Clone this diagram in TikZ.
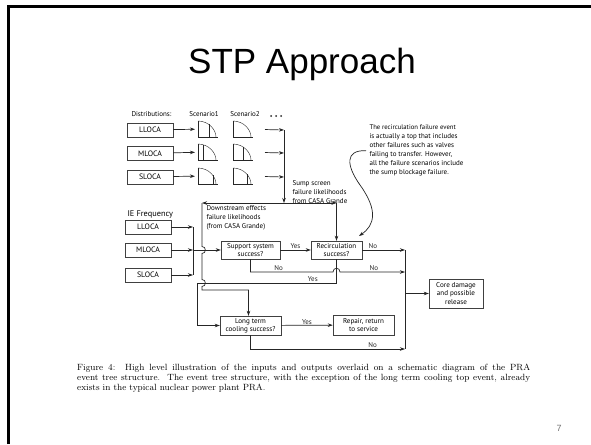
\documentclass[tikz,border=0pt]{standalone}
\usepackage{fontspec}
\newfontfamily\diagfont{PT Sans}
\newfontfamily\headfont{Liberation Sans}
\usetikzlibrary{arrows.meta,positioning,calc}

\begin{document}
\begin{tikzpicture}[x=1pt, y=-1pt, font=\diagfont\fontsize{7}{9}\selectfont,
box/.style={draw=black!75, thin, minimum width=46pt, minimum height=14pt, inner sep=1pt, align=center, font=\diagfont\fontsize{7.8}{8.6}\selectfont},
event/.style={box, minimum width=59pt, minimum height=18pt, font=\diagfont\fontsize{7.1}{8.4}\selectfont},
plot/.style={minimum width=20pt, minimum height=16pt, inner sep=0pt, outer sep=0pt},
arrow/.style={-{Stealth[length=5pt, width=3.5pt]}, black!85, line width=0.7pt},
line/.style={black!85, line width=0.7pt},
lbl/.style={inner sep=0.8pt, font=\diagfont\fontsize{7}{7.5}\selectfont}]

\useasboundingbox (0,0) rectangle (591,444);
\fill[white] (0,0) rectangle (591,444);
% slide frame
\draw[line width=3pt] (8.5,444) -- (8.5,6.5) -- (591,6.5);
\node[font=\headfont\fontsize{35}{40}\selectfont, anchor=base] (title) at (302,74) {STP Approach};

% input distributions
\node[anchor=base west] (distlbl) at (128,116) {Distributions:};
\node[anchor=base] (sc1lbl) at (204,116) {Scenario1};
\node[anchor=base] (sc2lbl) at (245,116) {Scenario2};
\foreach \x in {271,276,281} \fill[black!85] (\x,116) circle (1);
\node[box] (dlloca) at (150,130) {LLOCA};
\node[box, below=9pt of dlloca] (dmloca) {MLOCA};
\node[box, below=9pt of dmloca] (dsloca) {SLOCA};
\foreach \r/\yc in {a/129,b/152,c/176} {
  \node[plot] (sa\r) at (208,\yc) {};
  \node[plot] (sb\r) at (243,\yc) {};
}
\foreach \p in {saa,sab,sac,sba,sbb,sbc} {
  \draw[line] (\p.north west) -- (\p.south west) -- (\p.south east);
  \draw[line, thin] (\p.north west) .. controls +(11,0) and +(0,-7) .. ($(\p.south east)+(-2,0)$);
}
\draw[line, thin] ($(saa.south west)+(11,0)$) -- +(0,-13);
\draw[line, thin] ($(sab.south west)+(5,0)$) -- +(0,-15);
\draw[line, thin] ($(sac.south west)+(15,0)$) -- +(0,-9);
\draw[line, thin] ($(sbb.south west)+(10,0)$) -- +(0,-13);
\draw[line, thin] ($(sbc.south west)+(14,0)$) -- +(0,-10);
\coordinate (sumpa) at (284,130);
\coordinate (sumpb) at (284,153);
\coordinate (sumpc) at (284,177);
\coordinate (sj) at (284,203);
\foreach \b/\r in {dlloca/a, dmloca/b, dsloca/c} {
  \draw[arrow, shorten >=3pt] (\b) -- (sa\r);
  \draw[arrow, shorten <=12pt] (sb\r) -- (sump\r);
}
\draw[line] (sumpa) -- (sumpc);
\draw[arrow] (sumpc) -- (sj);
\node[anchor=north west, align=left] (sumptxt) at (289,176.5) {Sump screen\\failure likelihoods\\from CASA Grande};
\node[anchor=north west, align=left] (note) at (366,121.5) {\fontsize{6.7}{8.6}\selectfont The recirculation failure event\\is actually a top that includes\\other failures such as valves\\failing to transfer. However,\\all the failure scenarios include\\the sump blockage failure.};

% event tree
\node[anchor=base west, font=\diagfont\fontsize{8.3}{9}\selectfont] (ielbl) at (124,216) {IE Frequency};
\node[box] (illoca) at (148,227) {LLOCA};
\node[box] (imloca) at (148,250) {MLOCA};
\node[box] (isloca) at (148,275) {SLOCA};
\node[event] (support) at (250.5,250) {Support system\\success?};
\node[event, minimum width=51pt] (recirc) at (336.5,250) {Recirculation\\success?};
\node[event, minimum width=61pt, minimum height=19pt] (long) at (250.5,325.5) {Long term\\cooling success?};
\node[event, minimum width=61pt, minimum height=20pt] (repair) at (363.5,325) {Repair, return\\to service};
\node[event, minimum width=54pt, minimum height=29pt] (core) at (456,293.5) {Core damage\\and possible\\release};
\node[anchor=north west, align=left] (downtxt) at (203,202.5) {Downstream effects\\failure likelihoods\\(from CASA Grande)};

\coordinate (iej) at (193,250);
\coordinate (dl) at (202,203);
\coordinate (rt) at (recirc.north |- sj);
\coordinate (cna) at (405,250);
\coordinate (cnb) at (405,272);
\coordinate (cnc) at (405,349);
\coordinate (cnm) at (405,293.5);
\coordinate (noteend) at (359,236);

\draw[line] (illoca.east -| iej) -- (isloca.east -| iej);
\foreach \b in {illoca,imloca,isloca} \draw[arrow] (\b) -- (\b -| iej);
\draw[arrow] (iej) -- (support);
\draw[arrow] (sj) -- (dl);
\draw[arrow] (sj) -- (rt);
\draw[arrow] (rt) -- (recirc);
\draw[arrow] (dl) -- (202,246.5) .. controls (206.5,246.5) and (206.5,253.5) .. (202,253.5)
  -- (202,279.5) .. controls (206.5,279.5) and (206.5,286.5) .. (202,286.5)
  -- (202,290) -| ($(long.north)+(-2,0)$);
\draw[arrow] (support) -- node[lbl, above] {Yes} (recirc);
\draw[arrow] (recirc) -- node[lbl, above, pos=0.25] {No} (cna);
\draw[arrow] (support.south) -- (support.south |- 0,272) -- node[lbl, above, pos=0.34] {No} (333,272)
  .. controls (333,267) and (340,267) .. (340,272) -- node[lbl, above, pos=0.52] {No} (cnb);
\draw[arrow] (recirc.south) -- (recirc.south |- 0,283) -- node[lbl, above, pos=0.17] {Yes} (197,283)
  -- (197,325.5) -- (long.west);
\draw[arrow] (long) -- node[lbl, above] {Yes} (repair);
\draw[arrow] (long.south) -- (long.south |- 0,349) -- node[lbl, above, pos=0.79] {No} (cnc);
\draw[line] (cna) -- (cnc);
\draw[arrow] (cnm) -- (core);
\draw[arrow] (note.west) .. controls (345,150) and (346,165) .. (360,185)
  .. controls (378,210) and (375,225) .. (noteend);

\node[anchor=north west, inner sep=0pt, text width=453pt, align=justify, font=\fontsize{9}{10}\selectfont] (caption) at (77,364) {Figure 4:\ \ High level illustration of the inputs and outputs overlaid on a schematic diagram of the PRA\linebreak event tree structure.\ \ The event tree structure, with the exception of the long term cooling top event, already\linebreak exists in the typical nuclear power plant PRA.};
\node[text=black!55, font=\headfont\fontsize{9}{10}\selectfont] (pnum) at (559,428) {7};
\end{tikzpicture}
\end{document}
